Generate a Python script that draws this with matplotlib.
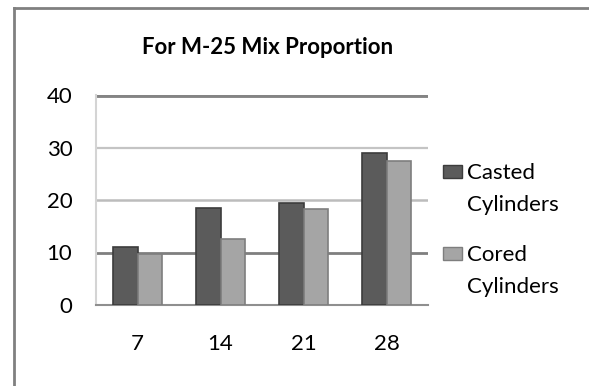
import matplotlib
matplotlib.use("Agg")
import matplotlib.pyplot as plt
from matplotlib.patches import Rectangle
import numpy as np

matplotlib.rcParams["font.family"] = ["Lato", "DejaVu Sans"]

# ── 数据 ──────────────────────────────────────────
ages = ["7", "14", "21", "28"]
casted = [11.0, 18.4, 19.4, 29.0]
cored = [9.8, 12.5, 18.3, 27.4]
series_names = ["Casted\nCylinders", "Cored\nCylinders"]
yticks = [0, 10, 20, 30, 40]

W, H = 589, 386
fig = plt.figure(figsize=(W / 100, H / 100), dpi=100)
ax = fig.add_axes([96 / W, 1 - 305 / H, 332 / W, 210 / H])

# 外框
fig.add_artist(plt.Line2D([14 / W, 14 / W], [0, 1 - 8 / H],
                          transform=fig.transFigure, color="#808080", lw=2))
fig.add_artist(plt.Line2D([14 / W, 1], [1 - 8 / H, 1 - 8 / H],
                          transform=fig.transFigure, color="#808080", lw=2))

x = np.arange(len(ages))
w = 0.29
colors = ["#5b5b5b", "#a5a5a5"]
edges = ["#3c3c3c", "#7e7e7e"]
ax.bar(x - w / 2, casted, w, color=colors[0], edgecolor=edges[0], lw=1.2, zorder=3)
ax.bar(x + w / 2, cored, w, color=colors[1], edgecolor=edges[1], lw=1.2, zorder=3)

# 网格线
grid_style = {10: ("#7f7f7f", 2.0), 20: ("#bcbcbc", 1.8), 30: ("#c4c4c4", 1.6), 40: ("#848484", 3.5)}
for y, (c, lw) in grid_style.items():
    ax.axhline(y, color=c, lw=lw, zorder=1)

ax.set_xlim(-0.5, 3.5)
ax.set_ylim(0, 40)
ax.set_xticks(x)
ax.set_xticklabels(ages, fontsize=16)
ax.set_yticks(yticks)
ax.set_yticklabels([str(t) for t in yticks], fontsize=16)
ax.tick_params(length=0)
ax.tick_params(axis="y", pad=17)
ax.tick_params(axis="x", pad=21)
for s in ["top", "right"]:
    ax.spines[s].set_visible(False)
ax.spines["left"].set_color("#d4d4d4")
ax.spines["left"].set_linewidth(1.5)
ax.spines["bottom"].set_color("#8f8f8f")
ax.spines["bottom"].set_linewidth(1.5)

fig.text(268 / W, 1 - 47 / H, "For M-25 Mix Proportion", ha="center", va="center",
         fontsize=16, fontweight="bold")

# 图例（手动，色块与首行对齐）
for i, name in enumerate(series_names):
    y0 = 171 + i * 82
    fig.add_artist(Rectangle((443 / W, 1 - (y0 + 6.5) / H), 19 / W, 13 / H,
                             transform=fig.transFigure, facecolor=colors[i],
                             edgecolor=edges[i], lw=1))
    fig.text(467 / W, 1 - (y0 - 8) / H, name, ha="left", va="top",
             fontsize=16, linespacing=1.75)

fig.savefig("out.png", dpi=100)
